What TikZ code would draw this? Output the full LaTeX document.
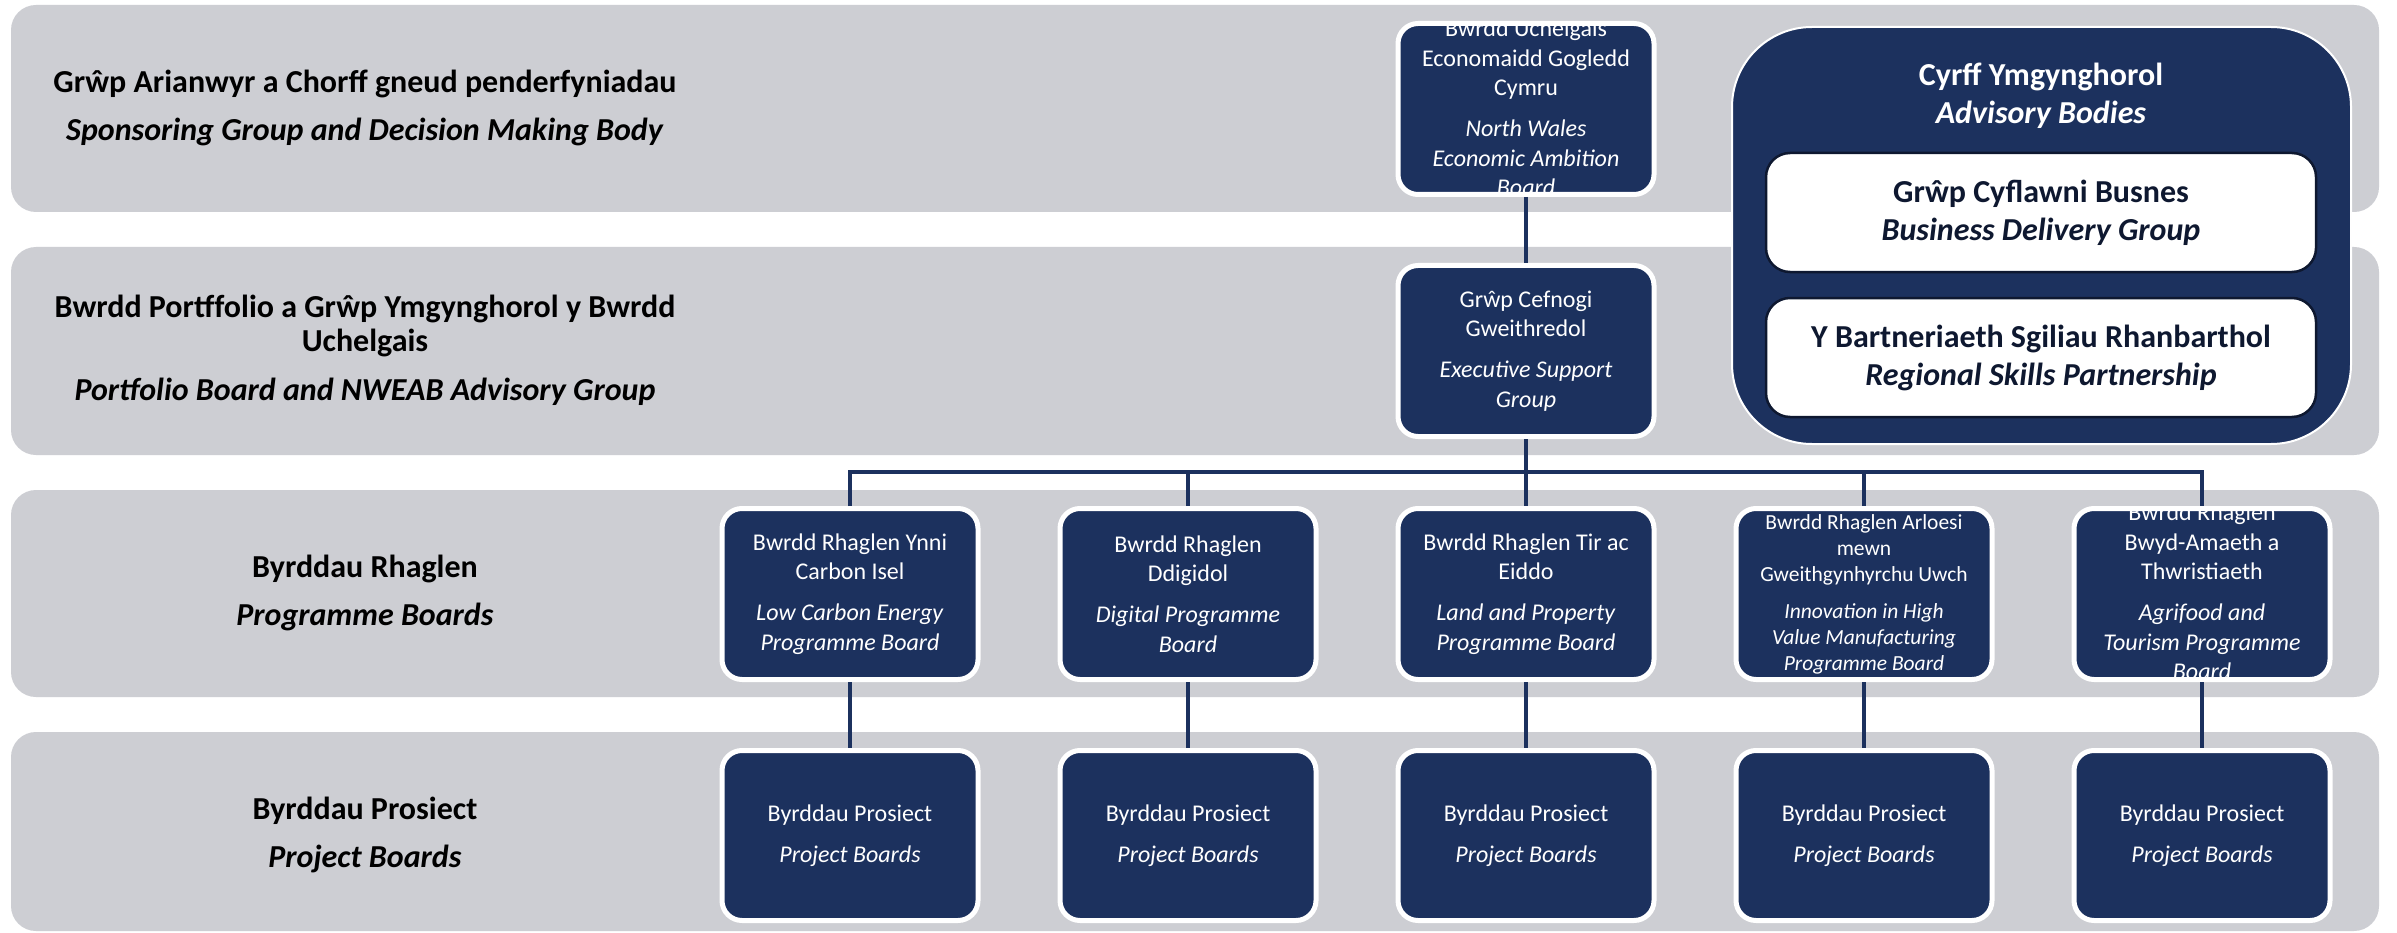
\documentclass[tikz,border=0pt]{standalone}
\usepackage{fontspec}
\setmainfont{Carlito}
\definecolor{navy}{RGB}{28,49,94}
\definecolor{bandgray}{RGB}{205,206,211}
\definecolor{inkdark}{RGB}{14,24,48}
\begin{document}
\begin{tikzpicture}[x=1pt,y=-1pt,
  band/.style={fill=bandgray, rounded corners=25pt},
  lbl/.style={align=center, font=\fontsize{32}{34}\selectfont\bfseries, text=black, inner sep=0pt},
  dbox/.style={fill=navy, draw=white, line width=5pt, rounded corners=20pt,
    minimum width=256pt, minimum height=171pt, inner sep=0pt, align=center,
    text=white, font=\fontsize{24}{29.5}\selectfont},
  dtext/.style={align=center, text=white, inner sep=0pt, font=\fontsize{24}{29.5}\selectfont},
  advbox/.style={fill=navy, draw=white, line width=2pt, rounded corners=80pt,
    minimum width=619pt, minimum height=417pt, inner sep=0pt},
  wbox/.style={fill=white, draw=inkdark, line width=2.5pt, rounded corners=24pt,
    minimum width=550pt, minimum height=119pt, inner sep=0pt, align=center,
    text=inkdark, font=\fontsize{32}{34}\selectfont\bfseries},
  conn/.style={draw=navy, line width=4.5pt}]
\useasboundingbox (0,0) rectangle (2397,933);
\fill[white] (0,0) rectangle (2397,933);
% bands
\fill[band] (11,5) rectangle (2379,212);
\fill[band] (11,247) rectangle (2379,455);
\fill[band] (11,490) rectangle (2379,697);
\fill[band] (11,732) rectangle (2379,931);
% left labels
\node[lbl] (l1) at (365,108) {Grŵp Arianwyr a Chorff gneud penderfyniadau\\[14pt]\textit{Sponsoring Group and Decision Making Body}};
\node[lbl] (l2) at (365,350) {Bwrdd Portffolio a Grŵp Ymgynghorol y Bwrdd\\Uchelgais\\[15pt]\textit{Portfolio Board and NWEAB Advisory Group}};
\node[lbl] (l3) at (365,593) {Byrddau Rhaglen\\[14pt]\textit{Programme Boards}};
\node[lbl] (l4) at (365,835) {Byrddau Prosiect\\[14pt]\textit{Project Boards}};
% top boxes
\node[dbox] (nweab) at (1526,109) {};
\begin{scope}
\clip[rounded corners=18pt] ([shift={(2.5,2.5)}]nweab.north west) rectangle ([shift={(-2.5,-2.5)}]nweab.south east);
\node[dtext] (nweabt) at (1526,108) {Bwrdd Uchelgais\\Economaidd Gogledd\\Cymru\\[11.5pt]\textit{North Wales}\\\textit{Economic Ambition}\\\textit{Board}};
\end{scope}
\node[dbox] (esg) at (1526,351) {Grŵp Cefnogi\\Gweithredol\\[11.5pt]\textit{Executive Support}\\\textit{Group}};
% advisory bodies
\node[advbox] (adv) at (2041.5,235.5) {};
\node[lbl, text=white] (advt) at (2041,96) {Cyrff Ymgynghorol\\[4pt]\textit{Advisory Bodies}};
\node[wbox] (bdg) at (2041,212.5) {Grŵp Cyflawni Busnes\\[4pt]\textit{Business Delivery Group}};
\node[wbox] (rsp) at (2041,357.5) {Y Bartneriaeth Sgiliau Rhanbarthol\\[4pt]\textit{Regional Skills Partnership}};
% programme boards
\node[dbox] (p1) at (850,594) {Bwrdd Rhaglen Ynni\\Carbon Isel\\[11.5pt]\textit{Low Carbon Energy}\\\textit{Programme Board}};
\node[dbox] (p2) at (1188,594) {Bwrdd Rhaglen\\Ddigidol\\[11.5pt]\textit{Digital Programme}\\\textit{Board}};
\node[dbox] (p3) at (1526,594) {Bwrdd Rhaglen Tir ac\\Eiddo\\[11.5pt]\textit{Land and Property}\\\textit{Programme Board}};
\node[dbox, font=\fontsize{21.5}{26}\selectfont] (p4) at (1864,594) {Bwrdd Rhaglen Arloesi\\mewn\\Gweithgynhyrchu Uwch\\[11pt]\textit{Innovation in High}\\\textit{Value Manufacturing}\\\textit{Programme Board}};
\node[dbox] (p5) at (2202,594) {};
\begin{scope}
\clip[rounded corners=18pt] ([shift={(2.5,2.5)}]p5.north west) rectangle ([shift={(-2.5,-2.5)}]p5.south east);
\node[dtext] (p5t) at (2202,592) {Bwrdd Rhaglen\\Bwyd-Amaeth a\\Thwristiaeth\\[11.5pt]\textit{Agrifood and}\\\textit{Tourism Programme}\\\textit{Board}};
\end{scope}
% project boards
\node[dbox, minimum height=170pt] (q1) at (850,835.5) {Byrddau Prosiect\\[11pt]\textit{Project Boards}};
\node[dbox, minimum height=170pt] (q2) at (1188,835.5) {Byrddau Prosiect\\[11pt]\textit{Project Boards}};
\node[dbox, minimum height=170pt] (q3) at (1526,835.5) {Byrddau Prosiect\\[11pt]\textit{Project Boards}};
\node[dbox, minimum height=170pt] (q4) at (1864,835.5) {Byrddau Prosiect\\[11pt]\textit{Project Boards}};
\node[dbox, minimum height=170pt] (q5) at (2202,835.5) {Byrddau Prosiect\\[11pt]\textit{Project Boards}};
% connectors
\coordinate (bus) at (1526,472);
\draw[conn] (nweab.south) -- (esg.north);
\draw[conn] (esg.south) -- (esg.south |- bus);
\draw[conn] (p1.north) -- (p1.north |- bus) -- (p5.north |- bus) -- (p5.north);
\draw[conn] (p2.north |- bus) -- (p2.north);
\draw[conn] (p3.north |- bus) -- (p3.north);
\draw[conn] (p4.north |- bus) -- (p4.north);
\draw[conn] (p1.south) -- (q1.north);
\draw[conn] (p2.south) -- (q2.north);
\draw[conn] (p3.south) -- (q3.north);
\draw[conn] (p4.south) -- (q4.north);
\draw[conn] (p5.south) -- (q5.north);
\end{tikzpicture}
\end{document}
